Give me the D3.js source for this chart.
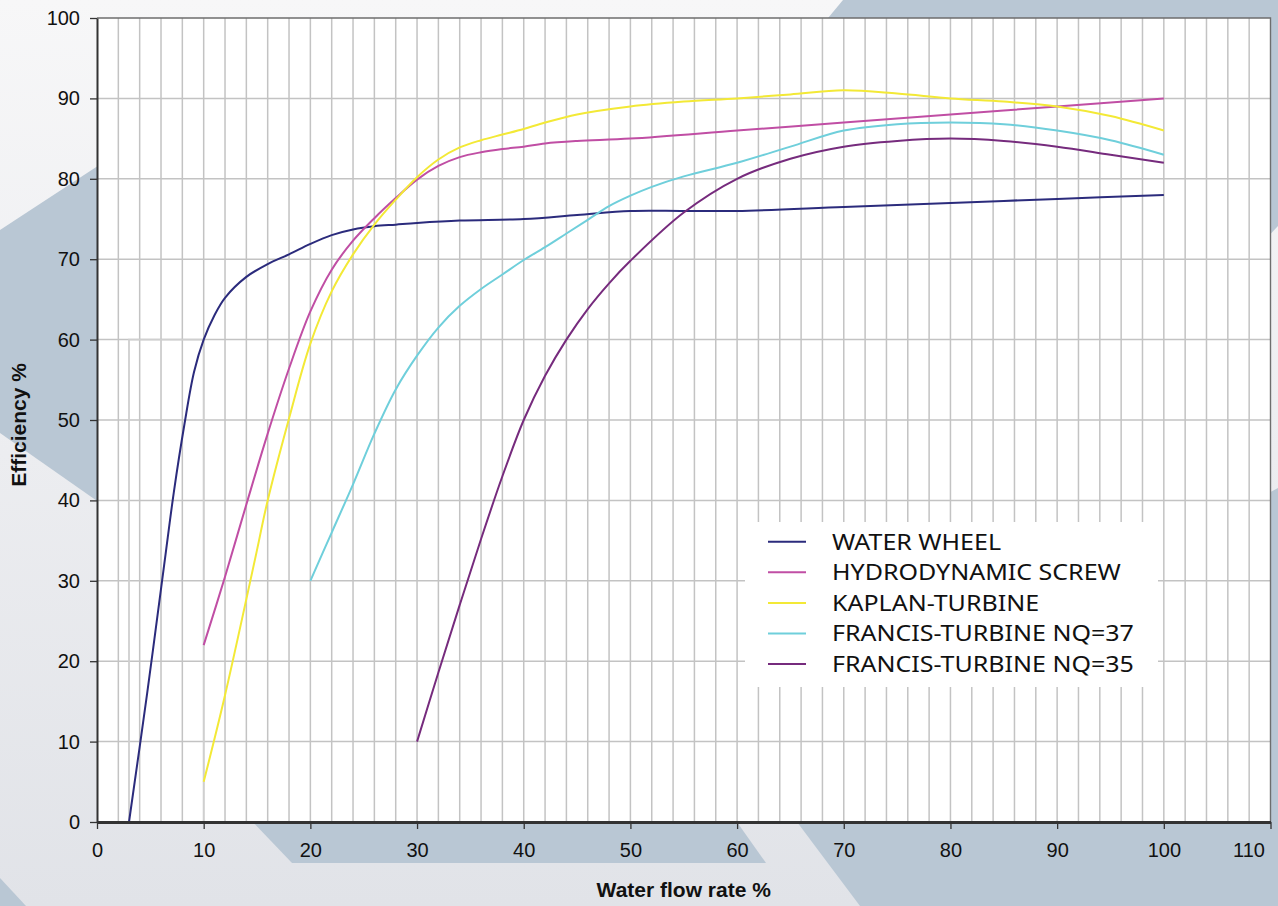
<!DOCTYPE html>
<html>
<head>
<meta charset="utf-8">
<script src="https://cdn.jsdelivr.net/npm/d3@7"></script>
<style>
	body { margin: 0; background: #ffffff; }
	svg { display: block; }
</style>
</head>
<body>
<svg id="chart" width="1278" height="906"></svg>
<script>
// series: [flow %, efficiency %]
const seriesNames = ["WATER WHEEL", "HYDRODYNAMIC SCREW", "KAPLAN-TURBINE", "FRANCIS-TURBINE NQ=37", "FRANCIS-TURBINE NQ=35"];
const seriesColors = ["#2b2b7c", "#c04ea4", "#f3e936", "#6fcfdb", "#762b7d"];

const waterWheel = [[3, 0], [4.7, 16], [6.3, 32], [7.2, 41], [8.2, 49.5], [9.1, 56], [10, 60], [11, 63], [12, 65.2],
	[14, 67.8], [16, 69.4], [18, 70.6], [20, 71.9], [22, 73], [24, 73.7], [26, 74.1], [28, 74.3], [30, 74.5],
	[34, 74.8], [40, 75], [45, 75.5], [50, 76], [55, 76], [60, 76], [70, 76.5], [80, 77], [90, 77.5], [100, 78]];
const screw = [[10, 22], [12, 30.5], [14, 39.5], [16, 48.3], [18, 56.4], [20, 63.5], [22, 68.7], [24, 72.3], [26, 75.1],
	[28, 77.6], [30, 79.9], [32, 81.6], [34, 82.7], [36, 83.3], [38, 83.7], [40, 84], [42, 84.4], [45, 84.7],
	[50, 85], [60, 86], [70, 87], [80, 88], [90, 89], [100, 90]];
const kaplan = [[10, 5], [11.9, 15.2], [14.8, 32.6], [16, 40], [18, 50.2], [20, 59.5], [22, 66], [24, 70.6], [26, 74.3],
	[28, 77.4], [30, 80.2], [32, 82.4], [34, 83.9], [36, 84.8], [38, 85.5], [40, 86.2], [42, 87], [45, 88],
	[50, 89], [55, 89.6], [60, 90], [65, 90.5], [70, 91], [75, 90.6], [80, 90], [85, 89.6], [90, 89], [95, 87.8], [100, 86]];
const francis37 = [[20, 30], [22, 36], [24, 42], [26, 48.3], [28, 53.8], [30, 58], [32, 61.5], [34, 64.2], [36, 66.3],
	[38, 68.1], [40, 69.9], [42, 71.5], [44, 73.2], [46, 74.9], [48, 76.6], [50, 77.9], [52, 79], [55, 80.3],
	[60, 82], [65, 84], [70, 86], [75, 86.8], [80, 87], [85, 86.8], [90, 86], [95, 84.8], [100, 83]];
const francis35 = [[30, 10], [32, 18.6], [34, 27], [36, 35.2], [38, 43], [40, 50], [42, 55.5], [44, 60], [46, 63.8],
	[48, 67], [50, 69.8], [55, 75.8], [60, 80], [65, 82.5], [70, 84], [75, 84.7], [80, 85], [85, 84.7], [90, 84], [95, 83], [100, 82]];
const allSeries = [waterWheel, screw, kaplan, francis37, francis35];

// leftover drop lines in the original sheet
const dropBox = [[3, 0], [3, 60], [10, 60], [10, 0]];

const xTicks = [0, 10, 20, 30, 40, 50, 60, 70, 80, 90, 100, 110];
const yTicks = [0, 10, 20, 30, 40, 50, 60, 70, 80, 90, 100];
const xGridStep = 2;

const xLabel = "Water flow rate %";
const yLabel = "Efficiency %";

const svg = d3.select("#chart");
const W = 1278, H = 906;
const plot = { left: 97, right: 1270.5, top: 18, bottom: 822 };

let x = d3.scaleLinear()
	.domain([0, 110])
	.range([plot.left, plot.right]);

let y = d3.scaleLinear()
	.domain([0, 100])
	.range([plot.bottom, plot.top]);

// background
let defs = svg.append("defs");
let grad = defs.append("linearGradient")
	.attr("id", "bg")
	.attr("x1", 0).attr("y1", 0)
	.attr("x2", 0).attr("y2", 1);
grad.append("stop").attr("offset", "0%").attr("stop-color", "#f7f7f8");
grad.append("stop").attr("offset", "100%").attr("stop-color", "#e1e3e8");

svg.append("rect")
	.attr("width", W)
	.attr("height", H)
	.attr("fill", "url(#bg)");

// decorative bands of the slide template
const bands = [
	[[843, 0], [1278, 0], [1278, 226], [1000, 520], [760, 100]],
	[[0, 230], [110, 158], [110, 510], [0, 433]],
	[[0, 878], [26, 906], [0, 906]],
	[[246, 815], [732, 815], [766, 863], [292, 863]],
	[[758, 770], [1278, 488], [1278, 906], [860, 906]]
];
svg.append("g")
	.selectAll("polygon")
	.data(bands)
	.enter()
	.append("polygon")
		.attr("points", d => d.map(p => p.join(",")).join(" "))
		.attr("fill", "#b9c7d4");

// plot area
svg.append("rect")
	.attr("x", plot.left)
	.attr("y", plot.top)
	.attr("width", plot.right - plot.left)
	.attr("height", plot.bottom - plot.top)
	.attr("fill", "#ffffff");

// grid
let xGrid = d3.range(xGridStep, 110, xGridStep);
svg.append("g")
	.selectAll("line")
	.data(xGrid)
	.enter()
	.append("line")
		.attr("x1", d => x(d)).attr("x2", d => x(d))
		.attr("y1", plot.top).attr("y2", plot.bottom)
		.attr("stroke", "#c3c3c3")
		.attr("stroke-width", 1.5);

svg.append("g")
	.selectAll("line")
	.data(yTicks.slice(1, -1))
	.enter()
	.append("line")
		.attr("x1", plot.left).attr("x2", plot.right)
		.attr("y1", d => y(d)).attr("y2", d => y(d))
		.attr("stroke", "#c3c3c3")
		.attr("stroke-width", 1.5);

svg.append("path")
	.attr("d", d3.line().x(d => x(d[0])).y(d => y(d[1]))(dropBox))
	.attr("fill", "none")
	.attr("stroke", "#cfcfcf")
	.attr("stroke-width", 1.8);

// top and right frame
svg.append("path")
	.attr("d", `M${plot.left},${plot.top}H${plot.right}V${plot.bottom}`)
	.attr("fill", "none")
	.attr("stroke", "#6e6e6e")
	.attr("stroke-width", 1.4);

// curves
let line = d3.line()
	.x(d => x(d[0]))
	.y(d => y(d[1]))
	.curve(d3.curveCatmullRom.alpha(0.5));

svg.append("g")
	.selectAll("path")
	.data(allSeries)
	.enter()
	.append("path")
		.attr("d", d => line(d))
		.attr("fill", "none")
		.attr("stroke", (d, i) => seriesColors[i])
		.attr("stroke-width", 2);

// legend
let legend = svg.append("g");
legend.append("rect")
	.attr("x", 745)
	.attr("y", 522)
	.attr("width", 413)
	.attr("height", 165)
	.attr("fill", "#ffffff");

let rows = legend.selectAll("g")
	.data(seriesNames)
	.enter()
	.append("g")
		.attr("transform", (d, i) => "translate(768," + (541.7 + i * 30.6) + ")");

rows.append("line")
	.attr("x1", 0).attr("x2", 38)
	.attr("stroke", (d, i) => seriesColors[i])
	.attr("stroke-width", 2);

// the original face is wider than Noto Sans at the same height: stretch a little
let legendText = rows.append("text")
	.attr("x", 64)
	.attr("dy", "0.36em")
	.style("font-family", "'Noto Sans', sans-serif")
	.style("font-size", "22px")
	.attr("fill", "#111111")
	.text(d => d);

legendText.each(function() {
	let w = this.getComputedTextLength();
	d3.select(this)
		.attr("textLength", w * 25 / 22)
		.attr("lengthAdjust", "spacingAndGlyphs");
});

// axes
let yAxis = svg.append("g")
	.attr("transform", "translate(" + plot.left + ",0)")
	.call(d3.axisLeft(y).tickValues(yTicks).tickSize(7).tickSizeOuter(0).tickPadding(10));

let xAxis = svg.append("g")
	.attr("transform", "translate(0," + plot.bottom + ")")
	.call(d3.axisBottom(x).tickValues(xTicks).tickSize(7).tickSizeOuter(0).tickPadding(14));

yAxis.select(".domain").attr("stroke", "#333333").attr("stroke-width", 2);
xAxis.select(".domain").attr("stroke", "#333333").attr("stroke-width", 3);
svg.selectAll(".tick line").attr("stroke", "#333333").attr("stroke-width", 1.3);
svg.selectAll(".tick text")
	.style("font-family", "'Liberation Sans', Arial, sans-serif")
	.style("font-size", "20px")
	.attr("fill", "#111111");

// the last label sits inside the frame, as in the original
xAxis.selectAll(".tick text")
	.filter(d => d === 110)
	.attr("x", -22);

svg.append("text")
	.attr("x", (plot.left + plot.right) / 2)
	.attr("y", 897)
	.attr("text-anchor", "middle")
	.style("font-family", "'Liberation Sans', Arial, sans-serif")
	.style("font-size", "21px")
	.style("font-weight", "bold")
	.attr("fill", "#111111")
	.text(xLabel);

svg.append("text")
	.attr("transform", "translate(26,425) rotate(-90)")
	.attr("text-anchor", "middle")
	.style("font-family", "'Liberation Sans', Arial, sans-serif")
	.style("font-size", "21px")
	.style("font-weight", "bold")
	.attr("fill", "#111111")
	.text(yLabel);
</script>
</body>
</html>
